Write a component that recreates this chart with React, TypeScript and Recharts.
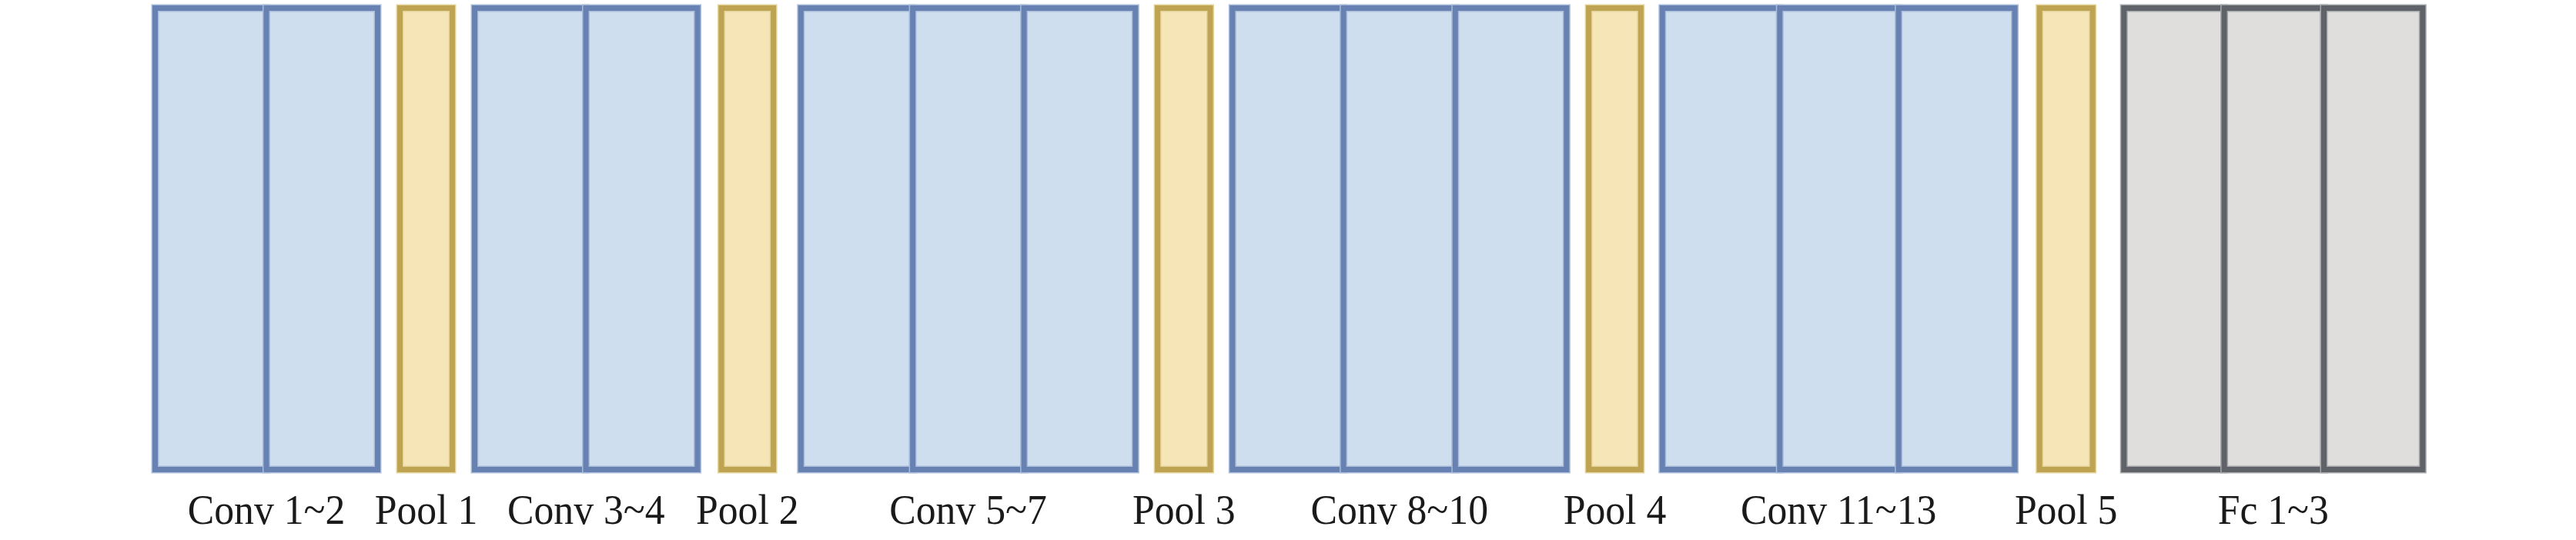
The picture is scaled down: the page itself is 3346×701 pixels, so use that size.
import React from "react";
import { BarChart, Bar, XAxis, YAxis } from "recharts";

// ---- data (diagram units: one unit = one pixel of the 3346-wide canvas) ----
const groupNames = [
  "Conv 1~2",
  "Pool 1",
  "Conv 3~4",
  "Pool 2",
  "Conv 5~7",
  "Pool 3",
  "Conv 8~10",
  "Pool 4",
  "Conv 11~13",
  "Pool 5",
  "Fc 1~3",
];
const groupKinds = ["conv", "pool", "conv", "pool", "conv", "pool", "conv", "pool", "conv", "pool", "fc"];
const gapBefore = [201.5, 29, 29, 31, 35.7, 28.8, 28.8, 28.8, 28, 32.2, 40.7];
const layerWidths = [
  [144.5, 144.5],
  [68],
  [144.5, 145],
  [67.6],
  [145.3, 144.5, 144.7],
  [68.4],
  [144.3, 145.2, 144.5],
  [67.7],
  [152.5, 154.3, 150.9],
  [68.9],
  [130.3, 129.4, 128.3],
];
const canvasWidth = 3346;
const canvasHeight = 701;

// ---- styles ----
const palette: Record<string, { fill: string; stroke: string; halo: string }> = {
  conv: { fill: "#CFDEEF", stroke: "#6781B2", halo: "#A9BDD9" },
  pool: { fill: "#F6E6B7", stroke: "#BEA352", halo: "#E3D49B" },
  fc: { fill: "#DFDEDD", stroke: "#5F6369", halo: "#A6A8AA" },
};

type Seg = { key: string; value: number; kind: string | null };
const segments: Seg[] = [];
const centers: number[] = [];
{
  let pos = 0;
  groupNames.forEach((_, i) => {
    segments.push({ key: `gap${i}`, value: gapBefore[i], kind: null });
    pos += gapBefore[i];
    const start = pos;
    layerWidths[i].forEach((w, j) => {
      segments.push({ key: `g${i}l${j}`, value: w, kind: groupKinds[i] });
      pos += w;
    });
    centers.push((start + pos) / 2);
  });
}

const row: Record<string, number | string> = { name: "VGG16" };
segments.forEach((s) => {
  row[s.key] = s.value;
});
const data = [row];

const makeShape = (kind: string | null) => (props: any) => {
  if (!kind) return <g />;
  const { x, y, width, height } = props;
  const c = palette[kind];
  return (
    <g>
      <rect x={x} y={y} width={width} height={height} fill={c.fill} stroke={c.halo} strokeWidth={10} />
      <rect x={x} y={y} width={width} height={height} fill="none" stroke={c.stroke} strokeWidth={7} />
    </g>
  );
};

const LabelTick = (props: any) => {
  const { x, y, payload } = props;
  let idx = 0;
  let best = Infinity;
  centers.forEach((c, i) => {
    const d = Math.abs(c - payload.value);
    if (d < best) {
      best = d;
      idx = i;
    }
  });
  return (
    <g transform={`translate(${x},${y + 70.5}) scale(0.94,1)`}>
      <text
        x={0}
        y={0}
        textAnchor="middle"
        fontFamily="'Liberation Serif', 'Times New Roman', serif"
        fontSize={55}
        fill="#1a1a1a"
      >
        {groupNames[idx]}
      </text>
    </g>
  );
};

export default function App() {
  return (
    <div style={{ width: canvasWidth, height: canvasHeight, background: "#fff" }}>
      <style>{`html,body{margin:0;padding:0;overflow:hidden;}`}</style>
      <BarChart
        width={canvasWidth}
        height={canvasHeight}
        data={data}
        layout="vertical"
        margin={{ top: 10.5, right: 0, bottom: 0, left: 0 }}
        barCategoryGap={0}
        barGap={0}
      >
        <XAxis
          type="number"
          domain={[0, canvasWidth]}
          allowDataOverflow
          ticks={centers}
          interval={0}
          tick={<LabelTick />}
          tickLine={false}
          axisLine={false}
          tickSize={0}
          tickMargin={0}
          height={91.5}
        />
        <YAxis type="category" dataKey="name" hide />
        {segments.map((s) => (
          <Bar key={s.key} dataKey={s.key} stackId="net" isAnimationActive={false} shape={makeShape(s.kind)} />
        ))}
      </BarChart>
    </div>
  );
}
